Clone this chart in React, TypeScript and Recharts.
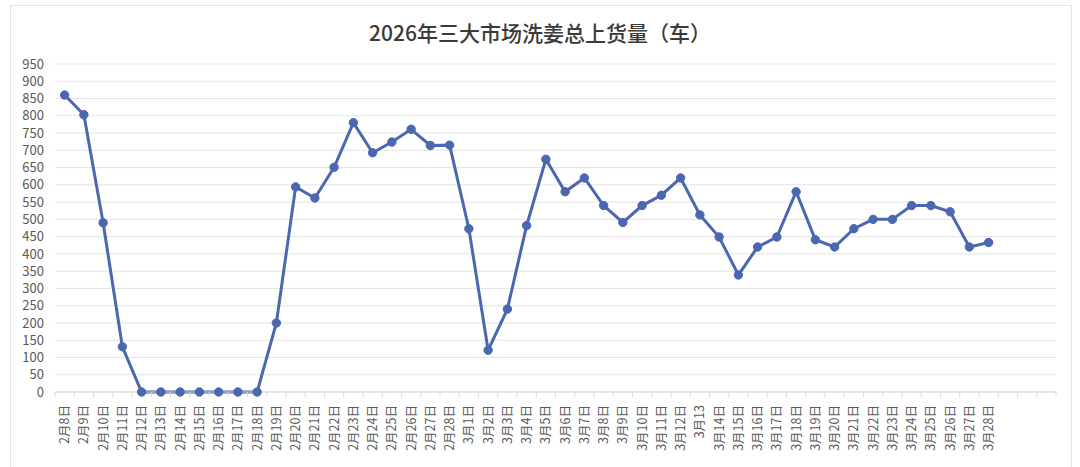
import { LineChart, Line, XAxis, YAxis, CartesianGrid } from 'recharts';

const febDates = [
  '2月8日', '2月9日', '2月10日', '2月11日', '2月12日', '2月13日', '2月14日',
  '2月15日', '2月16日', '2月17日', '2月18日', '2月19日', '2月20日', '2月21日',
  '2月22日', '2月23日', '2月24日', '2月25日', '2月26日', '2月27日', '2月28日',
];
const marDates = [
  '3月1日', '3月2日', '3月3日', '3月4日', '3月5日', '3月6日', '3月7日',
  '3月8日', '3月9日', '3月10日', '3月11日', '3月12日', '3月13', '3月14日',
  '3月15日', '3月16日', '3月17日', '3月18日', '3月19日', '3月20日', '3月21日',
  '3月22日', '3月23日', '3月24日', '3月25日', '3月26日', '3月27日', '3月28日',
];
// the source axis keeps three empty slots after the last date
const emptySlots = ['', '', ''];

const febValues = [860, 803, 490, 131, 0, 0, 0, 0, 0, 0, 0, 200, 594, 562, 651, 780, 693, 724, 761, 714, 715];
const marValues = [
  473, 121, 240, 482, 674, 580, 620, 540, 491, 540, 570, 620, 513, 449,
  339, 420, 449, 580, 441, 420, 473, 500, 500, 540, 540, 522, 420, 433,
];

const yTicks = [0, 50, 100, 150, 200, 250, 300, 350, 400, 450, 500, 550, 600, 650, 700, 750, 800, 850, 900, 950];

const dates = [...febDates, ...marDates, ...emptySlots];
const values: (number | null)[] = [...febValues, ...marValues, ...emptySlots.map(() => null)];
const data = dates.map((date, i) => ({ key: `${i}`, date, value: values[i] }));

const WIDTH = 1080;
const HEIGHT = 467;
const PLOT_LEFT = 55;
const PLOT_RIGHT = 1056;
const BAND = (PLOT_RIGHT - PLOT_LEFT) / data.length;
const LINE_COLOR = '#4a67b0';
const FONT = '"Noto Sans CJK SC", "Noto Sans", sans-serif';

function DateTick(props: any) {
  const { x, y, index } = props;
  const label = data[index]?.date ?? '';
  const isLast = index === data.length - 1;
  return (
    <g>
      <line x1={x - BAND / 2} y1={y} x2={x - BAND / 2} y2={y + 5} stroke="#d9d9d9" />
      {isLast && <line x1={x + BAND / 2} y1={y} x2={x + BAND / 2} y2={y + 5} stroke="#d9d9d9" />}
      <text
        x={x}
        y={y + 13}
        dy="0.35em"
        textAnchor="end"
        transform={`rotate(-90, ${x}, ${y + 13})`}
        fill="#595959"
        fontSize={12.5}
        fontFamily={FONT}
      >
        {label}
      </text>
    </g>
  );
}

export default function App() {
  return (
    <div style={{ position: 'absolute', left: 0, top: 0, width: WIDTH, height: HEIGHT, background: '#fff', overflow: 'hidden' }}>
      <div
        style={{
          position: 'absolute',
          left: 10,
          top: 5,
          width: 1062,
          height: 480,
          border: '1px solid #e3e3e3',
          boxSizing: 'border-box',
        }}
      />
      <div
        style={{
          position: 'absolute',
          left: 0,
          top: 18,
          width: WIDTH,
          textAlign: 'center',
          fontFamily: FONT,
          fontSize: 21,
          fontWeight: 500,
          lineHeight: '28px',
          color: '#3a3a3a',
        }}
      >
        2026年三大市场洗姜总上货量（车）
      </div>
      <div style={{ position: 'absolute', left: 0, top: 0 }}>
        <LineChart
          width={WIDTH}
          height={HEIGHT}
          data={data}
          margin={{ top: 64, right: WIDTH - PLOT_RIGHT, left: 0, bottom: 0 }}
        >
          <CartesianGrid vertical={false} stroke="#e3e3e3" />
          <XAxis
            dataKey="key"
            interval={0}
            height={75}
            padding={{ left: BAND / 2, right: BAND / 2 }}
            tickLine={false}
            tickSize={0}
            tickMargin={0}
            axisLine={{ stroke: '#d9d9d9' }}
            tick={<DateTick />}
          />
          <YAxis
            width={PLOT_LEFT}
            domain={[0, 950]}
            ticks={yTicks}
            interval={0}
            axisLine={false}
            tickLine={false}
            tickSize={0}
            tickMargin={11}
            tick={{ fill: '#595959', fontSize: 13, fontFamily: FONT }}
          />
          <Line
            type="linear"
            dataKey="value"
            stroke={LINE_COLOR}
            strokeWidth={3}
            dot={{ r: 4.2, fill: LINE_COLOR, stroke: LINE_COLOR, strokeWidth: 1 }}
            isAnimationActive={false}
          />
        </LineChart>
      </div>
    </div>
  );
}
